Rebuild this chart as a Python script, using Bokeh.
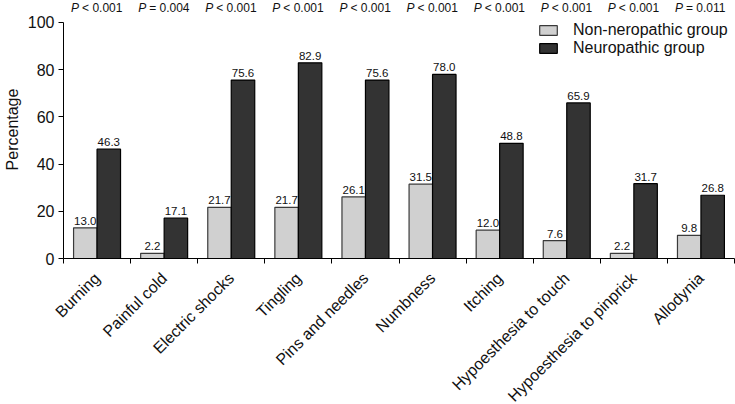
from math import pi
from bokeh.plotting import figure
from bokeh.models import FixedTicker, Legend, LegendItem, ColumnDataSource
from bokeh.core.properties import value
from bokeh.embed import file_html
from bokeh.resources import INLINE

# ---- data ----
categories = ["Burning", "Painful cold", "Electric shocks", "Tingling",
              "Pins and needles", "Numbness", "Itching",
              "Hypoesthesia to touch", "Hypoesthesia to pinprick", "Allodynia"]
non_neuropathic = [13.0, 2.2, 21.7, 21.7, 26.1, 31.5, 12.0, 7.6, 2.2, 9.8]
neuropathic = [46.3, 17.1, 75.6, 82.9, 75.6, 78.0, 48.8, 65.9, 31.7, 26.8]
p_signs = ["<", "=", "<", "<", "<", "<", "<", "<", "<", "="]
p_numbers = ["0.001", "0.004", "0.001", "0.001", "0.001", "0.001", "0.001",
             "0.001", "0.001", "0.011"]
y_ticks = [0, 20, 40, 60, 80, 100]

# ---- style constants ----
FONT = "Liberation Sans"
BAR_W = 0.35
Y_TOP = 109.3
P_LABEL_Y = 106.3
LIGHT = "#d0d0d0"
DARK = "#333333"

n = len(categories)
centers = [i + 0.5 for i in range(n)]
src = ColumnDataSource(dict(
    xl=[c - BAR_W / 2 for c in centers],
    xd=[c + BAR_W / 2 for c in centers],
    non=non_neuropathic,
    neu=neuropathic,
    non_lbl=[f"{v:.1f}" for v in non_neuropathic],
    neu_lbl=[f"{v:.1f}" for v in neuropathic],
    xc=centers,
    py=[P_LABEL_Y] * n,
    prest=[f"{s} {v}" for s, v in zip(p_signs, p_numbers)],
    pp=["P"] * n,
))

p = figure(frame_width=671, frame_height=258, x_range=(0, n), y_range=(0, Y_TOP),
           output_backend="svg", toolbar_location=None,
           min_border_left=54, min_border_right=2, min_border_top=0,
           min_border_bottom=10)
p.outline_line_color = None
p.xgrid.visible = False
p.ygrid.visible = False
p.background_fill_color = "white"

r_non = p.vbar(x="xl", top="non", width=BAR_W, bottom=0, source=src,
               fill_color=LIGHT, line_color="#3a3a3a", line_width=1.2)
r_neu = p.vbar(x="xd", top="neu", width=BAR_W, bottom=0, source=src,
               fill_color=DARK, line_color="black", line_width=1.2)

p.text(x="xl", y="non", text="non_lbl", source=src, text_align="center",
       text_baseline="bottom", y_offset=-3, text_font=value(FONT),
       text_font_size="11.5px", text_color="#111111")
p.text(x="xd", y="neu", text="neu_lbl", source=src, text_align="center",
       text_baseline="bottom", y_offset=-3, text_font=value(FONT),
       text_font_size="11.5px", text_color="#111111")

# P-values above the plot
p.text(x="xc", y="py", text="pp", source=src, text_align="left",
       text_baseline="middle", x_offset=-26, text_font=value(FONT),
       text_font_size="12px", text_font_style="italic", text_color="#111111")
p.text(x="xc", y="py", text="prest", source=src, text_align="left",
       text_baseline="middle", x_offset=-15, text_font=value(FONT),
       text_font_size="12px", text_color="#111111")

# x axis
xa = p.xaxis[0]
xa.ticker = FixedTicker(ticks=centers, minor_ticks=list(range(n + 1)))
xa.major_label_overrides = {c: cat for c, cat in zip(centers, categories)}
xa.major_label_orientation = pi / 4
xa.major_tick_out = 0
xa.major_tick_in = 0
xa.minor_tick_out = 5
xa.minor_tick_in = 0
xa.minor_tick_line_color = "black"
xa.axis_line_color = "black"
xa.major_label_text_font = FONT
xa.major_label_text_font_size = "16px"
xa.major_label_text_color = "#111111"
xa.major_label_standoff = 12

# y axis
ya = p.yaxis[0]
ya.ticker = FixedTicker(ticks=y_ticks)
ya.bounds = (0, 100)
ya.major_tick_out = 5
ya.major_tick_in = 0
ya.minor_tick_line_color = None
ya.axis_line_color = "black"
ya.major_tick_line_color = "black"
ya.major_label_text_font = FONT
ya.major_label_text_font_size = "16px"
ya.major_label_text_color = "#111111"
ya.major_label_standoff = 4
ya.axis_label = "Percentage"
ya.axis_label_text_font = FONT
ya.axis_label_text_font_size = "16px"
ya.axis_label_text_font_style = "normal"
ya.axis_label_text_color = "#111111"
ya.axis_label_standoff = 4

legend = Legend(items=[LegendItem(label="Non-neropathic group", renderers=[r_non]),
                       LegendItem(label="Neuropathic group", renderers=[r_neu])],
                location=(474, 201), glyph_width=22, glyph_height=12,
                label_height=14, label_standoff=14, spacing=-1, padding=0,
                margin=0, border_line_color=None, background_fill_alpha=0,
                label_text_font=FONT, label_text_font_size="16px",
                label_text_color="#111111")
p.add_layout(legend)

open("out.html", "w").write(file_html(p, INLINE))
